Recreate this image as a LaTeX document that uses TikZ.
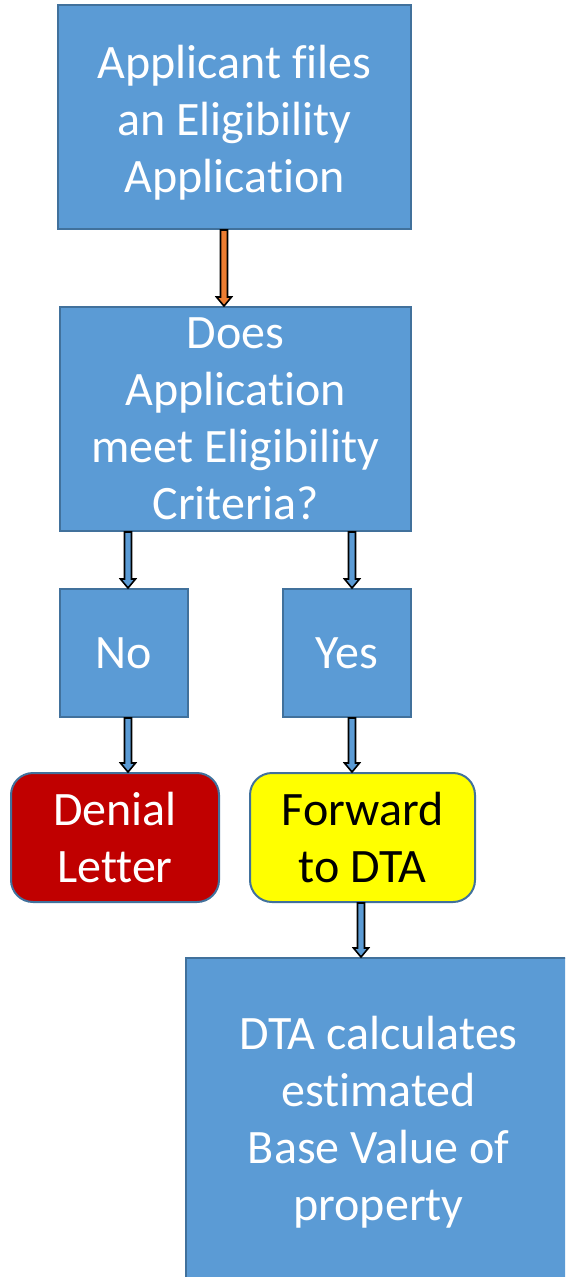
\documentclass[tikz,border=0pt]{standalone}
\usepackage{fontspec}
\setmainfont{Carlito}[Ligatures=NoCommon]
\usetikzlibrary{calc}
\definecolor{boxblue}{HTML}{5B9BD5}
\definecolor{boxedge}{HTML}{41719C}
\definecolor{denyred}{HTML}{C00000}
\definecolor{fwdyellow}{HTML}{FFFF00}
\definecolor{arroworange}{HTML}{ED7D31}
\tikzset{
  flowbox/.style={draw=boxedge, line width=2pt, fill=boxblue, text=white,
    align=center, inner sep=0pt, font=\fontsize{48}{57}\selectfont},
  roundbox/.style={flowbox, rounded corners=22pt},
  arrowedge/.style={draw=black, line width=1.6pt, line join=miter},
}
% block arrow: shaft from #1 down to the y of #2, tip at #2, filled with #3
\newcommand\flowarrow[3]{%
  \draw[arrowedge, fill=#3] let \p1=(#1), \p2=(#2) in
    (\x1-3.5pt,\y1) -- (\x1-3.5pt,\y2+9pt) -- (\x1-7.5pt,\y2+9pt) -- (\x1,\y2)
    -- (\x1+7.5pt,\y2+9pt) -- (\x1+3.5pt,\y2+9pt) -- (\x1+3.5pt,\y1) -- cycle;}
\begin{document}
\begin{tikzpicture}[x=1pt,y=-1pt]
\useasboundingbox (0,0) rectangle (565,1277);
\clip (0,0) rectangle (565,1277);

\node[flowbox, minimum width=353pt, minimum height=224pt] (apply) at (234.5,117)
  {\rule{0pt}{45pt}Applicant files\\an Eligibility\\Application};
\node[flowbox, minimum width=351pt, minimum height=224pt] (check) at (235.5,419)
  {Does\\Application\\meet Eligibility\\Criteria?};
\node[flowbox, minimum width=128pt, minimum height=128pt] (no) at (124,653) {No};
\node[flowbox, minimum width=128pt, minimum height=128pt] (yes) at (347,653) {Yes};
\node[roundbox, fill=denyred, minimum width=208pt, minimum height=129pt] (deny) at (115,837.5)
  {Denial\\Letter};
\node[roundbox, fill=fwdyellow, text=black, minimum width=225pt, minimum height=129pt] (fwd) at (362.5,837.5)
  {Forward\\to DTA};
\node[flowbox, minimum width=385pt, minimum height=328pt] (dta) at (378.5,1122)
  {DTA calculates\\estimated\\Base Value of\\property};

\coordinate (a1) at ([xshift=-10.5pt]apply.south);
\coordinate (a2) at ([xshift=4pt]no.north |- check.south);
\coordinate (a3) at ([xshift=5pt]yes.north |- check.south);
\coordinate (a4) at ([xshift=4pt]no.south);
\coordinate (a5) at ([xshift=5pt]yes.south);
\coordinate (a6) at ([xshift=-1.5pt]fwd.south);

\flowarrow{a1}{check.north}{arroworange}
\flowarrow{a2}{no.north}{boxblue}
\flowarrow{a3}{yes.north}{boxblue}
\flowarrow{a4}{deny.north}{boxblue}
\flowarrow{a5}{fwd.north}{boxblue}
\flowarrow{a6}{dta.north}{boxblue}
\end{tikzpicture}
\end{document}
